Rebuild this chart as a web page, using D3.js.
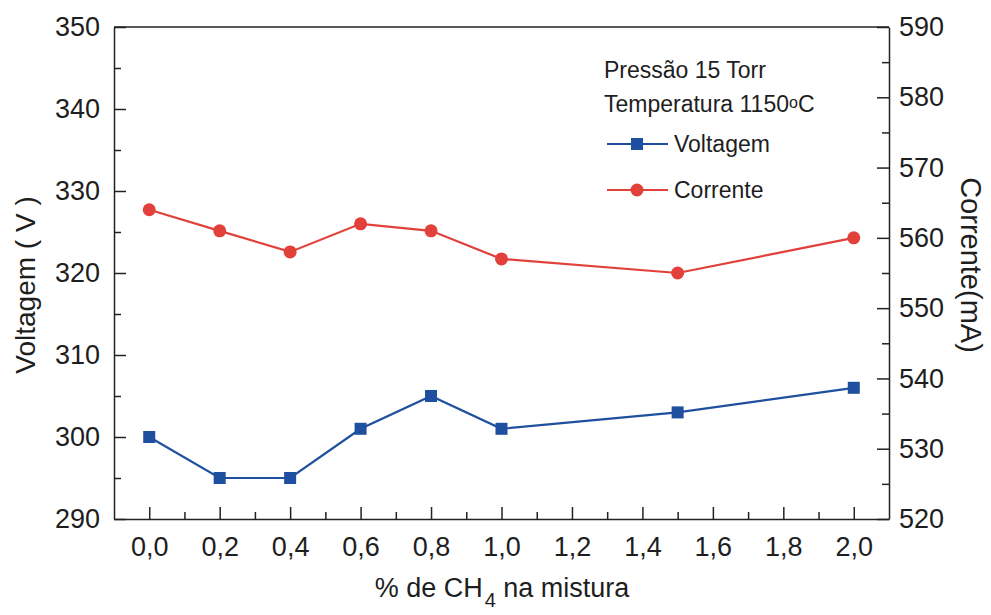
<!DOCTYPE html>
<html>
<head>
<meta charset="utf-8">
<script src="https://cdn.jsdelivr.net/npm/d3@7"></script>
<style>
  body { margin: 0; background: #fff; }
  svg text { font-family: "Liberation Sans", Arial, sans-serif; fill: #1e1e1e; }
</style>
</head>
<body>
<div id="chart"></div>
<script>
// data
const concentracao = [0.0, 0.2, 0.4, 0.6, 0.8, 1.0, 1.5, 2.0];
const voltagem = [300, 295, 295, 301, 305, 301, 303, 306];
const corrente = [564, 561, 558, 562, 561, 557, 555, 560];
const xTicks = [0, 0.2, 0.4, 0.6, 0.8, 1.0, 1.2, 1.4, 1.6, 1.8, 2.0];
const yLeftTicks = [290, 300, 310, 320, 330, 340, 350];
const yRightTicks = [520, 530, 540, 550, 560, 570, 580, 590];

const width = 991, height = 615;
const margin = { top: 27, right: 102, bottom: 96, left: 114 };

const svg = d3.select('#chart')
  .append('svg')
  .attr('width', width)
  .attr('height', height);

const x = d3.scaleLinear().domain([-0.1, 2.1]).range([margin.left, width - margin.right]);
const yL = d3.scaleLinear().domain([290, 350]).range([height - margin.bottom, margin.top]);
const yR = d3.scaleLinear().domain([520, 590]).range([height - margin.bottom, margin.top]);

const fmt = d => d3.format('.1f')(d).replace('.', ',');
const bottomY = height - margin.bottom;
const rightX = width - margin.right;

// minor ticks (inward)
const minorX = d3.range(1, 21, 2).map(i => i / 10);
svg.append('g')
  .attr('transform', `translate(0,${bottomY})`)
  .call(d3.axisBottom(x).tickValues(minorX).tickSize(-7).tickFormat(''))
  .call(g => g.select('.domain').remove());
svg.append('g')
  .attr('transform', `translate(${margin.left},0)`)
  .call(d3.axisLeft(yL).tickValues(d3.range(295, 350, 10)).tickSize(-7).tickFormat(''))
  .call(g => g.select('.domain').remove());
svg.append('g')
  .attr('transform', `translate(${rightX},0)`)
  .call(d3.axisRight(yR).tickValues(d3.range(525, 590, 10)).tickSize(-7).tickFormat(''))
  .call(g => g.select('.domain').remove());

// major axes
const xAxis = svg.append('g')
  .attr('transform', `translate(0,${bottomY})`)
  .call(d3.axisBottom(x).tickValues(xTicks).tickSizeInner(-12).tickSizeOuter(0).tickPadding(18).tickFormat(fmt));
const leftAxis = svg.append('g')
  .attr('transform', `translate(${margin.left},0)`)
  .call(d3.axisLeft(yL).tickValues(yLeftTicks).tickSizeInner(-12).tickSizeOuter(0).tickPadding(14));
const rightAxis = svg.append('g')
  .attr('transform', `translate(${rightX},0)`)
  .call(d3.axisRight(yR).tickValues(yRightTicks).tickSizeInner(-12).tickSizeOuter(0).tickPadding(10));

[xAxis, leftAxis, rightAxis].forEach(g => {
  g.selectAll('text').style('font-size', '27px').attr('fill', '#1e1e1e');
  g.select('.domain').attr('stroke', '#222').attr('stroke-width', 1.5);
});
svg.selectAll('.tick line').attr('stroke', '#222').attr('stroke-width', 1.5);

// top frame line
svg.append('line')
  .attr('x1', margin.left).attr('x2', rightX)
  .attr('y1', margin.top).attr('y2', margin.top)
  .attr('stroke', '#222').attr('stroke-width', 1.5);

// axis titles
svg.append('text')
  .attr('transform', `translate(35,${(margin.top + bottomY) / 2 + 12}) rotate(-90)`)
  .attr('text-anchor', 'middle')
  .style('font-size', '28px')
  .text('Voltagem ( V )');

svg.append('text')
  .attr('transform', `translate(961,${(margin.top + bottomY) / 2 - 8}) rotate(90)`)
  .attr('text-anchor', 'middle')
  .style('font-size', '29px')
  .text('Corrente(mA)');

const xTitle = svg.append('text')
  .attr('x', 502)
  .attr('y', 597)
  .attr('text-anchor', 'middle')
  .style('font-size', '27px');
xTitle.append('tspan').text('% de CH');
xTitle.append('tspan').attr('dy', 10).attr('dx', 2).style('font-size', '20px').text('4');
xTitle.append('tspan').attr('dy', -10).text(' na mistura');

// series
const blue = '#1f4f9f';
const red = '#e2403a';
const voltData = concentracao.map((c, i) => ({ c, v: voltagem[i] }));
const corrData = concentracao.map((c, i) => ({ c, v: corrente[i] }));

svg.append('path')
  .datum(corrData)
  .attr('fill', 'none')
  .attr('stroke', red)
  .attr('stroke-width', 2.2)
  .attr('d', d3.line().x(d => x(d.c)).y(d => yR(d.v)));
svg.selectAll('.corr')
  .data(corrData)
  .enter()
  .append('circle')
  .attr('class', 'corr')
  .attr('cx', d => x(d.c))
  .attr('cy', d => yR(d.v))
  .attr('r', 6.5)
  .attr('fill', red);

svg.append('path')
  .datum(voltData)
  .attr('fill', 'none')
  .attr('stroke', blue)
  .attr('stroke-width', 2.2)
  .attr('d', d3.line().x(d => x(d.c)).y(d => yL(d.v)));
svg.selectAll('.volt')
  .data(voltData)
  .enter()
  .append('rect')
  .attr('class', 'volt')
  .attr('x', d => x(d.c) - 6)
  .attr('y', d => yL(d.v) - 6)
  .attr('width', 12)
  .attr('height', 12)
  .attr('fill', blue);

// legend
svg.append('text')
  .attr('x', 604).attr('y', 78)
  .style('font-size', '23px')
  .text('Pressão 15 Torr');
const temp = svg.append('text')
  .attr('x', 604).attr('y', 112)
  .style('font-size', '23px');
temp.append('tspan').text('Temperatura 1150');
temp.append('tspan').attr('dy', -4).style('font-size', '16px').text('o');
temp.append('tspan').attr('dy', 4).text('C');

const legendItems = [
  { name: 'Voltagem', color: blue, shape: 'square', y: 144 },
  { name: 'Corrente', color: red, shape: 'circle', y: 190 },
];
legendItems.forEach(item => {
  const g = svg.append('g');
  g.append('line')
    .attr('x1', 607).attr('x2', 668)
    .attr('y1', item.y).attr('y2', item.y)
    .attr('stroke', item.color).attr('stroke-width', 2);
  if (item.shape === 'square') {
    g.append('rect').attr('x', 631).attr('y', item.y - 6).attr('width', 12).attr('height', 12).attr('fill', item.color);
  } else {
    g.append('circle').attr('cx', 637).attr('cy', item.y).attr('r', 6.5).attr('fill', item.color);
  }
  g.append('text')
    .attr('x', 674).attr('y', item.y + 8)
    .style('font-size', '23px')
    .text(item.name);
});
</script>
</body>
</html>
